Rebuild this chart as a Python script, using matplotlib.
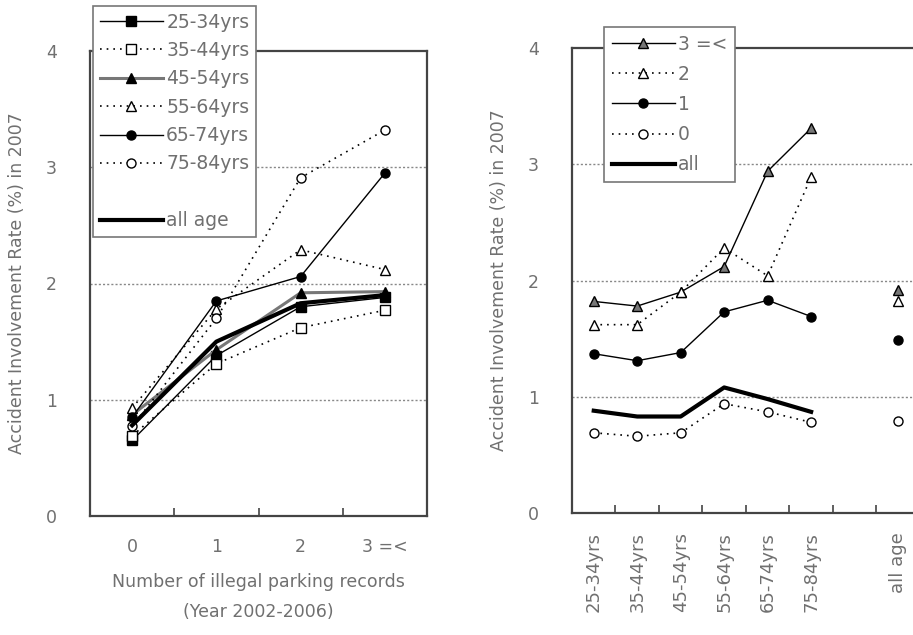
import matplotlib
matplotlib.use("Agg")
import matplotlib.pyplot as plt
from matplotlib.lines import Line2D
import numpy as np

# ---------------- data ----------------
records = ["0", "1", "2", "3 =<"]
age_groups = ["25-34yrs", "35-44yrs", "45-54yrs", "55-64yrs", "65-74yrs", "75-84yrs"]

# left panel: rate by number of illegal parking records, per age group
r_25_34 = [0.65, 1.38, 1.80, 1.88]
r_35_44 = [0.69, 1.31, 1.62, 1.77]
r_45_54 = [0.87, 1.43, 1.92, 1.93]
r_55_64 = [0.93, 1.78, 2.29, 2.12]
r_65_74 = [0.85, 1.85, 2.06, 2.95]
r_75_84 = [0.77, 1.70, 2.91, 3.32]
r_all_age = [0.78, 1.50, 1.83, 1.90]

# right panel: rate by age group, per number of records (last value = all age)
g_3plus = [1.82, 1.78, 1.90, 2.12, 2.94, 3.31, 1.92]
g_2 = [1.62, 1.62, 1.90, 2.28, 2.04, 2.89, 1.82]
g_1 = [1.37, 1.31, 1.38, 1.73, 1.83, 1.69, 1.49]
g_0 = [0.69, 0.66, 0.69, 0.94, 0.87, 0.78, 0.79]
g_all = [0.88, 0.83, 0.83, 1.08, 0.98, 0.87]
all_age_label = "all age"

# ---------------- style ----------------
plt.rcParams["font.family"] = ["DejaVu Sans"]
TXT = "#707070"
SPINE = "#444444"
DOT = (0, (1, 3))
FS_TICK = 12.5
FS_BIG = 13.5

fig = plt.figure(figsize=(9.13, 6.35), dpi=100)

def style_axes(ax, n):
    ax.set_ylim(0, 4)
    ax.set_xlim(-0.5, n - 0.5)
    ax.set_yticks([0, 1, 2, 3, 4])
    ax.tick_params(axis="y", length=0, pad=24, labelsize=FS_TICK, labelcolor=TXT)
    ax.set_xticks(np.arange(n))
    ax.tick_params(axis="x", which="major", length=0, labelsize=FS_TICK, labelcolor=TXT)
    ax.set_xticks(np.arange(n - 1) + 0.5, minor=True)
    ax.tick_params(axis="x", which="minor", direction="in", length=6, width=1.2, color=SPINE)
    for s in ax.spines.values():
        s.set_color(SPINE)
        s.set_linewidth(1.6)
    for yv in [1, 2, 3]:
        ax.axhline(yv, color="#888888", lw=1.0, ls=(0, (1.5, 1.5)), zorder=0)

# ---------------- left panel ----------------
axL = fig.add_axes([90 / 913, 1 - 516 / 635, 337 / 913, 465 / 635])
style_axes(axL, len(records))
xL = np.arange(len(records))
ms = 6.5
axL.plot(xL, r_25_34, color="black", lw=1.0, marker="s", ms=ms, mfc="black", mec="black", label="25-34yrs", zorder=3)
axL.plot(xL, r_35_44, color="black", lw=1.2, ls=DOT, marker="s", ms=ms, mfc="white", mec="black", label="35-44yrs", zorder=3)
axL.plot(xL, r_45_54, color="#777777", lw=2.2, marker="^", ms=ms, mfc="black", mec="black", label="45-54yrs", zorder=3)
axL.plot(xL, r_55_64, color="black", lw=1.2, ls=DOT, marker="^", ms=ms, mfc="white", mec="black", label="55-64yrs", zorder=3)
axL.plot(xL, r_65_74, color="black", lw=1.0, marker="o", ms=ms, mfc="black", mec="black", label="65-74yrs", zorder=3)
axL.plot(xL, r_75_84, color="black", lw=1.2, ls=DOT, marker="o", ms=ms, mfc="white", mec="black", label="75-84yrs", zorder=3)
axL.plot(xL, r_all_age, color="black", lw=3.0, label="all age", zorder=4)
axL.set_xticklabels(records)
axL.tick_params(axis="x", which="major", pad=16)
axL.set_xlabel("Number of illegal parking records\n(Year 2002-2006)", fontsize=FS_TICK, color=TXT,
               labelpad=12, linespacing=1.9)
axL.set_ylabel("Accident Involvement Rate (%) in 2007", fontsize=FS_TICK, color=TXT, labelpad=14)

h, l = axL.get_legend_handles_labels()
blank = Line2D([], [], linestyle="none")
handles = h[:6] + [blank] + h[6:]
labels = l[:6] + [""] + l[6:]
legL = fig.legend(handles, labels, loc="upper left", bbox_to_anchor=(93 / 913, 1 - 6 / 635),
                  fontsize=FS_BIG, handlelength=3.4, handletextpad=0.15, labelspacing=0.5,
                  fancybox=False, framealpha=1, edgecolor="#777777", borderpad=0.35,
                  borderaxespad=0)
for t in legL.get_texts():
    t.set_color(TXT)
legL.get_frame().set_linewidth(1.2)

# ---------------- right panel ----------------
x_labels = age_groups + ["", all_age_label]
nR = len(x_labels)
axR = fig.add_axes([572 / 913, 1 - 513 / 635, 350 / 913, 465 / 635])
style_axes(axR, nR)
axR.set_xlim(-0.5, nR - 0.5 + 0.05)
xa = np.arange(len(age_groups))
xall = x_labels.index(all_age_label)

def series(vals, label, **kw):
    axR.plot(xa, vals[:len(age_groups)], label=label, zorder=3, **kw)
    pt_kw = {k: v for k, v in kw.items() if k in ("marker", "ms", "mfc", "mec")}
    axR.plot([xall], [vals[-1]], ls="none", zorder=3, **pt_kw)

series(g_3plus, "3 =<", color="black", lw=1.0, marker="^", ms=ms, mfc="#777777", mec="black")
series(g_2, "2", color="black", lw=1.2, ls=DOT, marker="^", ms=ms, mfc="white", mec="black")
series(g_1, "1", color="black", lw=1.0, marker="o", ms=ms, mfc="black", mec="black")
series(g_0, "0", color="black", lw=1.2, ls=DOT, marker="o", ms=ms, mfc="white", mec="black")
axR.plot(xa, g_all, color="black", lw=3.0, label="all", zorder=4)
axR.set_xticklabels(x_labels, rotation=90, fontsize=FS_BIG - 0.5)
axR.tick_params(axis="x", which="major", pad=14)
axR.tick_params(axis="y", pad=24)
axR.set_ylabel("Accident Involvement Rate (%) in 2007", fontsize=FS_TICK, color=TXT, labelpad=14)

legR = fig.legend(*axR.get_legend_handles_labels(), loc="upper left",
                  bbox_to_anchor=(604 / 913, 1 - 27 / 635),
                  fontsize=FS_BIG, handlelength=3.4, handletextpad=0.15, labelspacing=0.6,
                  fancybox=False, framealpha=1, edgecolor="#777777", borderpad=0.4,
                  borderaxespad=0)
for t in legR.get_texts():
    t.set_color(TXT)
legR.get_frame().set_linewidth(1.2)

fig.savefig("out.png", dpi=100)
